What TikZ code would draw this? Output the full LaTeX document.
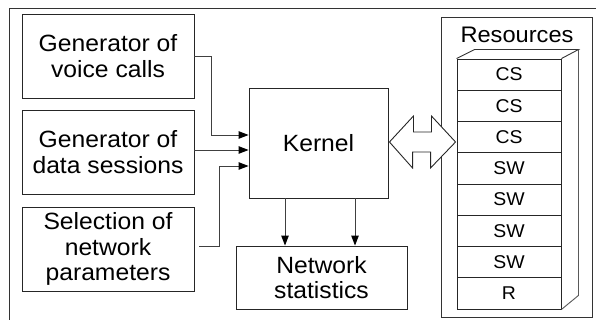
\documentclass[tikz,border=0pt]{standalone}
\usepackage{fontspec}
\setmainfont[FakeStretch=1.05]{Liberation Sans}
\usetikzlibrary{calc,arrows.meta}
\begin{document}
\begin{tikzpicture}[x=1pt,y=-1pt,
  box/.style={draw=black!85,line width=0.9pt,inner sep=0pt,align=center,font=\fontsize{23.5}{25.5}\selectfont},
  conn/.style={draw=black!75,line width=0.9pt,-{Triangle[length=10pt,width=7.5pt,fill=black,color=black]}},
  rowbox/.style={draw=black!85,line width=0.9pt,inner sep=0pt,minimum width=104pt,minimum height=31.25pt,font=\fontsize{18.5}{18.5}\selectfont},
  plain/.style={draw=black!80,line width=0.9pt},
]
\useasboundingbox (0,0) rectangle (596,320);
\draw[plain] (597,8) -- (9,8) -- (9,322);
% left boxes
\node[box,minimum width=172pt,minimum height=84pt] (voice) at (108,56) {Generator of\\voice calls};
\node[box,minimum width=172pt,minimum height=84pt] (data) at (108,152) {Generator of\\data sessions};
\node[box,minimum width=172pt,minimum height=84pt] (sel) at (108,249) {Selection of\\network\\parameters};
% kernel and stats
\node[box,minimum width=139pt,minimum height=110pt] (kernel) at (318.5,143) {Kernel};
\node[box,minimum width=171pt,minimum height=63pt] (stat) at (321.5,277.5) {Network\\statistics};
% resources
\node[plain,draw,inner sep=0pt,minimum width=151pt,minimum height=300pt] (res) at (516.5,167) {};
\node[inner sep=0pt,font=\fontsize{22.5}{23}\selectfont] (restitle) at (517,35) {Resources};
\foreach \lab [count=\i] in {CS,CS,CS,SW,SW,SW,SW,R}{
  \node[rowbox] (r\i) at (509,{59+31.25*(\i-0.5)}) {\lab};
}
\draw[plain] (r1.north west) -- ++(18,-9) -- ($(r1.north east)+(17,-9)$) -- (r1.north east);
\draw[plain,draw=black!65] ($(r1.north east)+(17,-9)$) -- ($(r8.south east)+(17,-14)$) -- (r8.south east);
% connectors into kernel
\coordinate (k1) at ($(kernel.west)+(0,-8)$);
\coordinate (k2) at ($(kernel.west)+(0,7)$);
\coordinate (k3) at ($(kernel.west)+(0,23)$);
\draw[conn] (voice.east) -- ++(17,0) |- (k1);
\draw[conn] (data.east |- k2) -- (k2);
\draw[conn] ($(sel.east)+(5,-3)$) -- ++(20,0) |- (k3);
% kernel to stats
\coordinate (d1) at ($(kernel.south)+(-33.5,0)$);
\coordinate (d2) at ($(kernel.south)+(36.5,0)$);
\draw[conn] (d1) -- (d1 |- stat.north);
\draw[conn] (d2) -- (d2 |- stat.north);
% double arrow kernel <-> resources
\coordinate (L) at ($(kernel.east)+(1,-1)$);
\coordinate (R) at ($(L -| r3.west)+(-1,0)$);
\draw[plain,draw=black!85,fill=white,line join=miter] (L) -- ++(24,-26) -- ++(0,16) -- ++(18,0) -- ++(0,-16) -- (R)
  -- ++(-25,26) -- ++(0,-16) -- ++(-18,0) -- ++(0,16) -- cycle;
\end{tikzpicture}
\end{document}
